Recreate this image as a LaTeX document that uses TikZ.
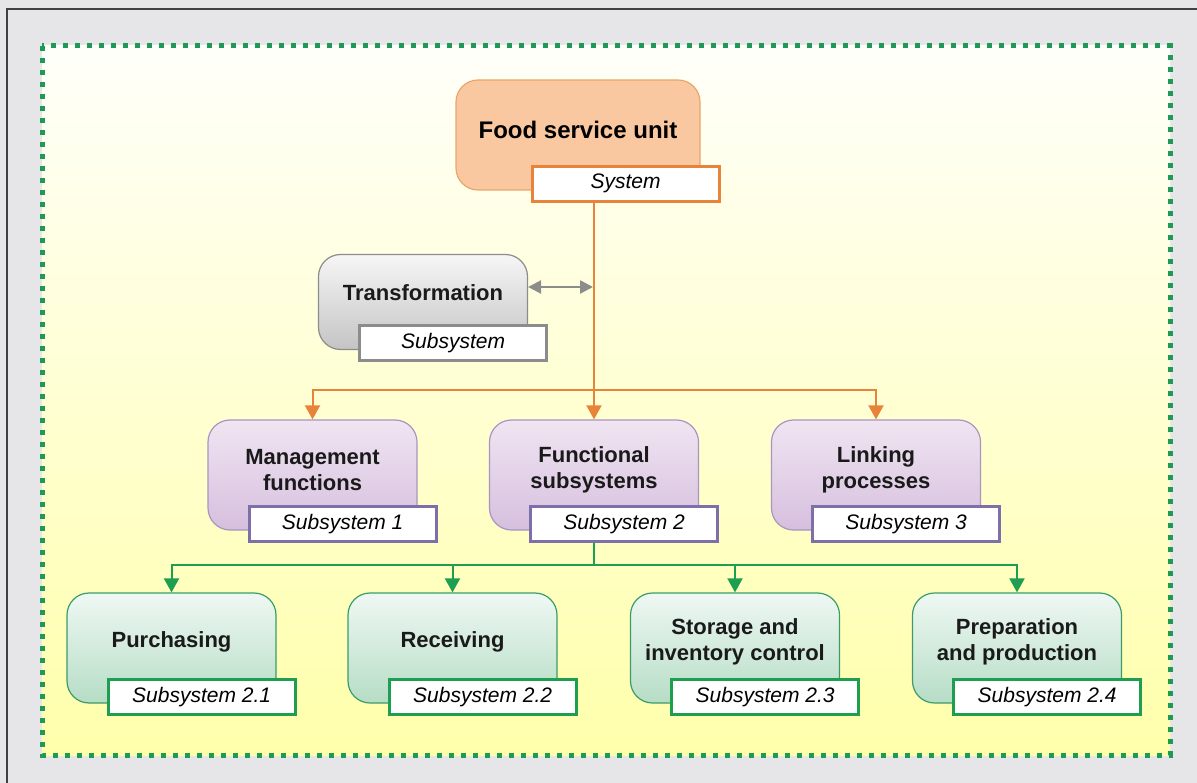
\documentclass[tikz,border=0pt]{standalone}
\usepackage{fontspec}
\setmainfont{Liberation Sans}
\usetikzlibrary{arrows.meta,positioning}

\definecolor{bggray}{HTML}{E6E6E8}
\definecolor{dotgreen}{HTML}{1E9A56}
\definecolor{orfill}{HTML}{F9C8A0}
\definecolor{ordraw}{HTML}{E9A66C}
\definecolor{orline}{HTML}{E8843A}
\definecolor{grtop}{HTML}{F6F6F6}
\definecolor{grbot}{HTML}{C4C4C4}
\definecolor{grdraw}{HTML}{8C8C8C}
\definecolor{putop}{HTML}{F0E5F2}
\definecolor{pubot}{HTML}{D6BFDE}
\definecolor{pudraw}{HTML}{A995C0}
\definecolor{putag}{HTML}{7D6FAA}
\definecolor{gntop}{HTML}{EFF8F3}
\definecolor{gnbot}{HTML}{B6DDC6}
\definecolor{gndraw}{HTML}{3B9C69}
\definecolor{gnline}{HTML}{1E9E50}
\definecolor{txt}{HTML}{1A1A1A}

\begin{document}
\begin{tikzpicture}[x=1pt,y=-1pt,
    box/.style={rounded corners=22pt,draw,line width=1.2pt,
      minimum width=209pt,minimum height=110pt},
    title/.style={font=\fontsize{22}{26}\selectfont\bfseries,align=center,text=txt},
    tag/.style={draw,fill=white,line width=3pt,minimum width=187pt,
      minimum height=35pt,anchor=south east,
      font=\fontsize{21}{25}\selectfont\itshape},
    link/.style={line width=2pt,-{Triangle[width=15pt,length=14pt]}},
    purplebox/.style={box,draw=pudraw,top color=putop,bottom color=pubot},
    greenbox/.style={box,draw=gndraw,top color=gntop,bottom color=gnbot}]
  \useasboundingbox (0,0) rectangle (1197,783);
  % frame and dotted area
  \fill[bggray] (0,0) rectangle (1197,783);
  \draw[line width=2pt,black!75] (7,783) -- (7,9) -- (1197,9);
  \shade[top color=yellow!2!white,bottom color=yellow!33!white] (42,46) rectangle (1170,755);
  \draw[dotgreen,line width=5pt,dash pattern=on 5pt off 7pt] (42,46) rectangle (1170,755);

  % system
  \node[box,minimum width=244pt,draw=ordraw,fill=orfill] (food) at (578,135) {};
  \node[title,text=black,font=\fontsize{24}{28}\selectfont\bfseries] (food-txt)
    at ([yshift=5pt]food) {Food service unit};
  \node[tag,draw=orline] (food-lbl) at ([shift={(20,12)}]food.south east) {System};

  % transformation
  \node[box,minimum height=95pt,draw=grdraw,top color=grtop,bottom color=grbot]
    (trans) at (423,302) {};
  \node[title] (trans-txt) at ([yshift=9pt]trans) {Transformation};
  \node[tag,draw=grdraw] (trans-lbl) at ([shift={(20,12)}]trans.south east) {Subsystem};

  % subsystems
  \foreach \n/\x/\txt/\k in {mgmt/312.5/{Management\\functions}/1,
      func/594/{Functional\\subsystems}/2, linkp/876/{Linking\\processes}/3} {
    \node[purplebox] (\n) at (\x,475) {};
    \node[title] (\n-txt) at ([yshift=5pt]\n) {\txt};
    \node[tag,draw=putag] (\n-lbl) at ([shift={(20,12)}]\n.south east) {Subsystem \k};
  }

  % functional subsystems
  \foreach \n/\x/\txt/\k in {purch/171.5/Purchasing/1, recv/452.5/Receiving/2,
      stor/735/{Storage and\\inventory control}/3,
      prep/1017/{Preparation\\and production}/4} {
    \node[greenbox] (\n) at (\x,648) {};
    \node[title] (\n-txt) at ([yshift=6pt]\n) {\txt};
    \node[tag,draw=gnline] (\n-lbl) at ([shift={(20,12)}]\n.south east) {Subsystem 2.\k};
  }

  % connectors
  \coordinate (obar) at (594,390);
  \coordinate (tarr) at (593,287);
  \coordinate (gbar) at (594,565);
  \draw[link,orline] (food-lbl.south -| func.north) -- (func.north);
  \draw[link,orline] (obar) -| (mgmt.north);
  \draw[link,orline] (obar) -| (linkp.north);
  \draw[grdraw,line width=2.5pt,{Triangle[width=13pt,length=13pt]}-{Triangle[width=13pt,length=13pt]}]
    ([yshift=15pt]trans.east) -- (tarr);
  \draw[gnline,line width=2pt] (func-lbl.south -| func.south) -- (gbar);
  \foreach \n in {purch,recv,stor,prep}
    \draw[link,gnline] (gbar) -| (\n.north);
\end{tikzpicture}
\end{document}
